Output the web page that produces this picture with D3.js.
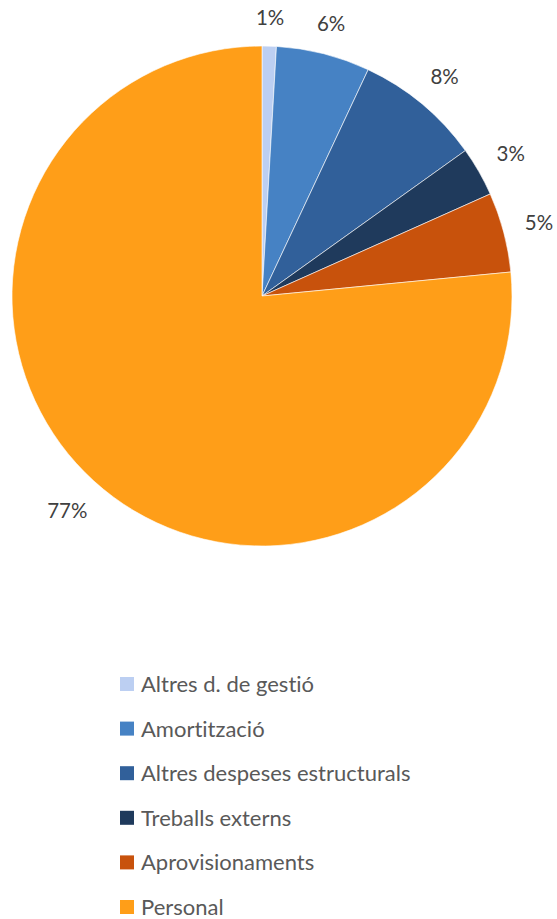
<!DOCTYPE html>
<html>
<head>
<meta charset="utf-8">
<script src="https://cdn.jsdelivr.net/npm/d3@7"></script>
<style>
  html, body { margin: 0; padding: 0; background: #fff; }
  svg { display: block; }
  text { font-variant-ligatures: none; font-feature-settings: "liga" 0, "clig" 0; }
</style>
</head>
<body>
<svg id="chart" width="557" height="919"></svg>
<script>
const categories = ["Altres d. de gestió", "Amortització", "Altres despeses estructurals", "Treballs externs", "Aprovisionaments", "Personal"];
const values = [0.92, 6.06, 8.14, 3.19, 5.16, 76.53];
const labels = ["1%", "6%", "8%", "3%", "5%", "77%"];
const colors = ["#BCCFF2", "#4682C4", "#31609A", "#1F3A5C", "#C8520C", "#FF9E18"];

const svg = d3.select("#chart");
const cx = 262, cy = 296, R = 250;
const font = "Lato, 'Open Sans', sans-serif";

const data = categories.map((c, i) => ({ name: c, value: values[i], label: labels[i], color: colors[i] }));
const pie = d3.pie().value(d => d.value).sort(null);
const arcs = pie(data);
const arc = d3.arc().innerRadius(0).outerRadius(R);

const g = svg.append("g").attr("transform", `translate(${cx},${cy})`);
g.selectAll("path").data(arcs).join("path")
  .attr("d", arc)
  .attr("fill", d => d.data.color)
  .attr("stroke", "#ffffff")
  .attr("stroke-width", 0.6);

// outside-end labels
const lbl = g.selectAll("text.lbl").data(arcs).join("text")
  .attr("class", "lbl")
  .attr("font-family", font)
  .attr("font-size", 20.5)
  .attr("fill", "#404040")
  .attr("text-anchor", "middle")
  .attr("dy", "0.36em")
  .text(d => d.data.label);

lbl.each(function(d) {
  const bb = this.getBBox();
  const a = (d.startAngle + d.endAngle) / 2;
  const s = Math.sin(a), c = Math.cos(a);
  const h = 14;
  const dist = R + 21 + Math.abs(bb.width / 2 * s) + Math.abs(h / 2 * c);
  d3.select(this).attr("x", dist * s).attr("y", -dist * c);
});

// legend
const legendY = d3.scalePoint().domain(categories).range([684, 907]);
const lg = svg.append("g");
const items = lg.selectAll("g").data(data).join("g")
  .attr("transform", d => `translate(120,${legendY(d.name)})`);
items.append("rect")
  .attr("x", 0).attr("y", -7).attr("width", 14).attr("height", 14)
  .attr("fill", d => d.color);
items.append("text")
  .attr("x", 21).attr("dy", "0.36em")
  .attr("font-family", font)
  .attr("font-size", 22)
  .attr("fill", "#595959")
  .text(d => d.name);
</script>
</body>
</html>
